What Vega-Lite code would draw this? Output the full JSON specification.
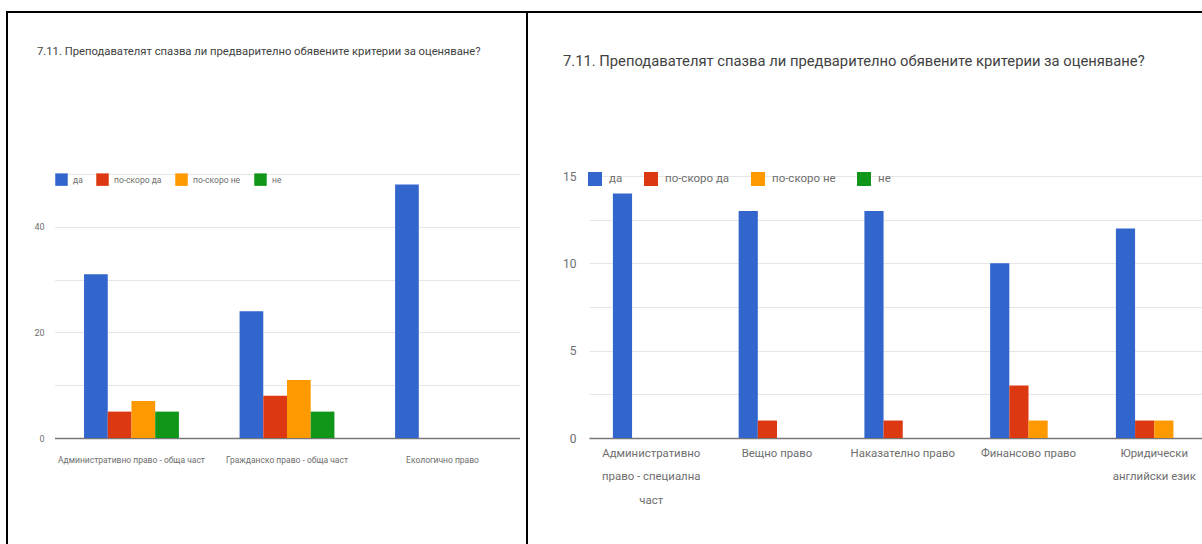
{
  "$schema": "https://vega.github.io/schema/vega-lite/v6.json",
  "padding": {"left": 6, "top": 11, "right": 0, "bottom": 0},
  "background": "white",
  "bounds": "flush",
  "spacing": 0,
  "config": {
    "font": "Roboto",
    "view": {"stroke": "black", "strokeWidth": 2},
    "axis": {"labelFont": "Roboto", "labelColor": "#6e6e6e", "gridColor": "#e6e6e6", "domain": false, "ticks": false, "tickSize": 0},
    "title": {"font": "Roboto", "color": "#424242", "fontWeight": "normal", "anchor": "start", "frame": "group"},
    "legend": {"labelFont": "Roboto", "labelColor": "#6e6e6e", "padding": 0, "symbolType": "square", "symbolStrokeWidth": 0, "symbolOpacity": 1}
  },
  "resolve": {"scale": {"color": "independent", "x": "independent", "y": "independent", "xOffset": "independent"}},
  "hconcat": [
    {
      "width": 520,
      "height": 540,
      "title": {"text": "7.11. Преподавателят спазва ли предварително обявените критерии за оценяване?", "fontSize": 11.25, "offset": -45, "dx": 30},
      "data": {"values": [
        {"subject": "Административно право - обща част", "answer": "да", "count": 31},
        {"subject": "Административно право - обща част", "answer": "по-скоро да", "count": 5},
        {"subject": "Административно право - обща част", "answer": "по-скоро не", "count": 7},
        {"subject": "Административно право - обща част", "answer": "не", "count": 5},
        {"subject": "Гражданско право - обща част", "answer": "да", "count": 24},
        {"subject": "Гражданско право - обща част", "answer": "по-скоро да", "count": 8},
        {"subject": "Гражданско право - обща част", "answer": "по-скоро не", "count": 11},
        {"subject": "Гражданско право - обща част", "answer": "не", "count": 5},
        {"subject": "Екологично право", "answer": "да", "count": 48},
        {"subject": "Екологично право", "answer": "по-скоро да", "count": 0},
        {"subject": "Екологично право", "answer": "по-скоро не", "count": 0},
        {"subject": "Екологично право", "answer": "не", "count": 0}
      ]},
      "mark": {"type": "bar"},
      "encoding": {
        "x": {"field": "subject", "type": "nominal", "sort": null,
          "scale": {"range": [47.5, 512.5], "paddingInner": 0.39, "paddingOuter": 0.19},
          "axis": {"title": null, "labelAngle": 0, "offset": -114, "domain": true, "domainColor": "#777777", "domainWidth": 1.5, "grid": false, "labelPadding": 17, "labelFontSize": 8.5, "labelLimit": 0}},
        "xOffset": {"field": "answer", "type": "nominal", "sort": ["да", "по-скоро да", "по-скоро не", "не"], "scale": {"paddingInner": 0, "paddingOuter": 0}},
        "y": {"field": "count", "type": "quantitative",
          "scale": {"domain": [0, 50], "range": [426, 162], "nice": false, "zero": true},
          "axis": {"title": null, "values": [0, 10, 20, 30, 40, 50], "labelExpr": "datum.value % 20 === 0 ? datum.label : ''", "offset": -41, "labelPadding": 4, "labelFontSize": 9}},
        "color": {"field": "answer", "type": "nominal", "sort": ["да", "по-скоро да", "по-скоро не", "не"],
          "scale": {"domain": ["да", "по-скоро да", "по-скоро не", "не"], "range": ["#3366cc", "#dc3912", "#ff9900", "#109618"]},
          "legend": {"orient": "none", "legendX": 48, "legendY": 161, "direction": "horizontal", "title": null, "symbolSize": 156, "labelFontSize": 8.5, "columnPadding": 13, "labelOffset": 5}}
      }
    },
    {
      "width": 690,
      "height": 540,
      "title": {"text": "7.11. Преподавателят спазва ли предварително обявените критерии за оценяване?", "fontSize": 14.75, "offset": -57, "dx": 36},
      "data": {"values": [
        {"subject": "Административно право - специална част", "answer": "да", "count": 14},
        {"subject": "Административно право - специална част", "answer": "по-скоро да", "count": 0},
        {"subject": "Административно право - специална част", "answer": "по-скоро не", "count": 0},
        {"subject": "Административно право - специална част", "answer": "не", "count": 0},
        {"subject": "Вещно право", "answer": "да", "count": 13},
        {"subject": "Вещно право", "answer": "по-скоро да", "count": 1},
        {"subject": "Вещно право", "answer": "по-скоро не", "count": 0},
        {"subject": "Вещно право", "answer": "не", "count": 0},
        {"subject": "Наказателно право", "answer": "да", "count": 13},
        {"subject": "Наказателно право", "answer": "по-скоро да", "count": 1},
        {"subject": "Наказателно право", "answer": "по-скоро не", "count": 0},
        {"subject": "Наказателно право", "answer": "не", "count": 0},
        {"subject": "Финансово право", "answer": "да", "count": 10},
        {"subject": "Финансово право", "answer": "по-скоро да", "count": 3},
        {"subject": "Финансово право", "answer": "по-скоро не", "count": 1},
        {"subject": "Финансово право", "answer": "не", "count": 0},
        {"subject": "Юридически английски език", "answer": "да", "count": 12},
        {"subject": "Юридически английски език", "answer": "по-скоро да", "count": 1},
        {"subject": "Юридически английски език", "answer": "по-скоро не", "count": 1},
        {"subject": "Юридически английски език", "answer": "не", "count": 0}
      ]},
      "mark": {"type": "bar"},
      "encoding": {
        "x": {"field": "subject", "type": "nominal", "sort": null,
          "scale": {"range": [62, 689.5], "paddingInner": 0.39, "paddingOuter": 0.19},
          "axis": {"title": null, "labelAngle": 0, "offset": -114, "domain": true, "domainColor": "#777777", "domainWidth": 1.5, "grid": false, "labelPadding": 9, "labelFontSize": 11.4, "labelLineHeight": 23.5, "labelLimit": 0,
            "labelExpr": "datum.label == 'Административно право - специална част' ? ['Административно', 'право - специална', 'част'] : datum.label == 'Юридически английски език' ? ['Юридически', 'английски език'] : datum.label"}},
        "xOffset": {"field": "answer", "type": "nominal", "sort": ["да", "по-скоро да", "по-скоро не", "не"], "scale": {"paddingInner": 0, "paddingOuter": 0}},
        "y": {"field": "count", "type": "quantitative",
          "scale": {"domain": [0, 15], "range": [426, 164], "nice": false, "zero": true},
          "axis": {"title": null, "values": [0, 2.5, 5, 7.5, 10, 12.5, 15], "labelExpr": "datum.value % 5 === 0 ? datum.label : ''", "offset": -53, "labelPadding": 4, "labelFontSize": 12}},
        "color": {"field": "answer", "type": "nominal", "sort": ["да", "по-скоро да", "по-скоро не", "не"],
          "scale": {"domain": ["да", "по-скоро да", "по-скоро не", "не"], "range": ["#3366cc", "#dc3912", "#ff9900", "#109618"]},
          "legend": {"orient": "none", "legendX": 61, "legendY": 160, "direction": "horizontal", "title": null, "symbolSize": 196, "labelFontSize": 11.5, "columnPadding": 21, "labelOffset": 7}}
      }
    }
  ]
}
